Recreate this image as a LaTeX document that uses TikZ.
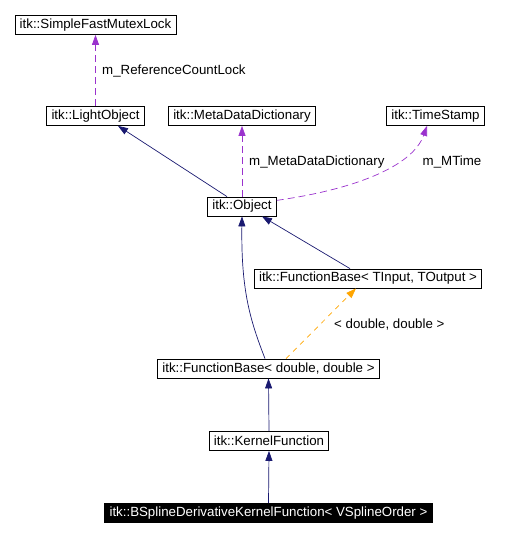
\documentclass[tikz,border=0pt]{standalone}
\usepackage{fontspec}
\setmainfont{Liberation Sans}
\usetikzlibrary{arrows.meta}

\begin{document}
\begin{tikzpicture}[x=1pt, y=-1pt, >={Triangle[length=10pt, width=7pt]},
    cls/.style={draw, line width=0.8pt, inner xsep=4.8pt, inner ysep=0pt, minimum height=19pt, font=\fontsize{13.3}{15}\selectfont},
    lbl/.style={anchor=west, inner sep=0pt, font=\fontsize{13.3}{15}\selectfont},
    inh/.style={->, draw={rgb,255:red,25;green,25;blue,112}, line width=0.7pt},
    use/.style={->, draw={rgb,255:red,154;green,50;blue,205}, line width=0.7pt, dash pattern=on 7pt off 4pt},
    tpl/.style={->, draw={rgb,255:red,255;green,165;blue,0}, line width=0.7pt, dash pattern=on 5pt off 5pt}]

  \useasboundingbox (0,0) rectangle (518,537);

  % Classes
  \node[cls] (mutex) at (95.5,25) {itk::SimpleFastMutexLock};
  \node[cls] (light) at (95.5,116) {itk::LightObject};
  \node[cls] (dict) at (242,116) {itk::MetaDataDictionary};
  \node[cls] (stamp) at (435.5,116) {itk::TimeStamp};
  \node[cls] (object) at (242,206.5) {itk::Object};
  \node[cls] (fbtio) at (368,278.5) {itk::FunctionBase< TInput, TOutput >};
  \node[cls] (fbdouble) at (268.5,368.5) {itk::FunctionBase< double, double >};
  \node[cls] (kernel) at (269,441) {itk::KernelFunction};
  \node[cls, fill=black, text=white] (bspline) at (268.5,513) {itk::BSplineDerivativeKernelFunction< VSplineOrder >};

  % Members
  \draw[use] (light.north) -- (mutex.south);
  \node[lbl] (reflock) at (102,71) {m\_ReferenceCountLock};
  \draw[use] (object.north) -- (dict.south);
  \node[lbl] (mdd) at (249,162) {m\_MetaDataDictionary};
  \draw[use] (object.10) .. controls (350,190) and (412,168) .. ([xshift=-8.5pt]stamp.south);
  \node[lbl] (mtime) at (422.5,162) {m\_MTime};

  % Inheritance
  \draw[inh] ([xshift=-15pt]object.north) -- ([xshift=22.5pt]light.south);
  \draw[inh] ([xshift=-18pt]fbtio.north) -- ([xshift=20pt]object.south);
  \draw[inh] ([xshift=-3.5pt]fbdouble.north) .. controls (250,320) and (241,290) .. (object.south);
  \draw[inh] (kernel.north) -- (fbdouble.south);
  \draw[inh] (bspline.north) -- (kernel.south);

  % Template instance
  \draw[tpl] ([xshift=17.5pt]fbdouble.north) -- ([xshift=-12pt]fbtio.south);
  \node[lbl] (args) at (334,325) {< double, double >};

\end{tikzpicture}
\end{document}
